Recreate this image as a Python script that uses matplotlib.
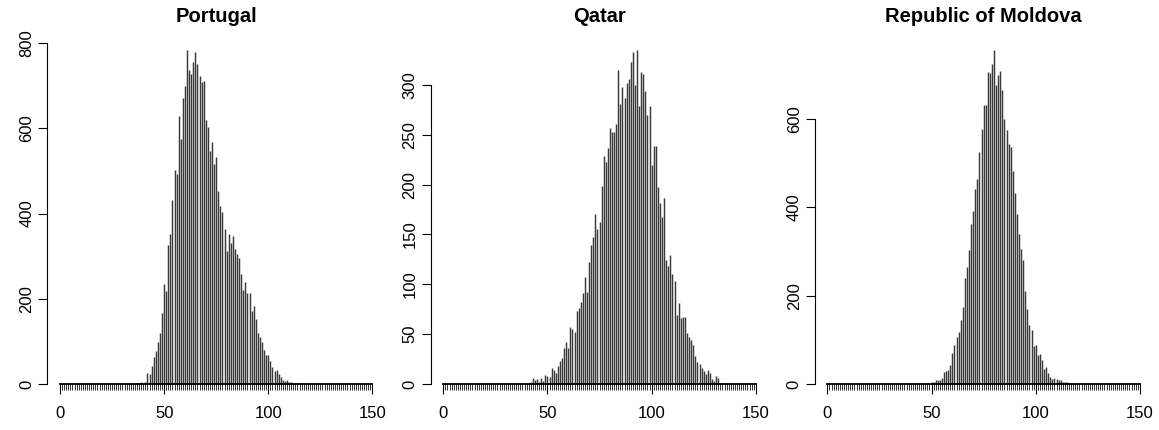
import matplotlib.pyplot as plt
import numpy as np

plt.rcParams['font.family'] = ['Liberation Sans', 'DejaVu Sans']

# counts per integer value (first value sits at *_start)
portugal_start = 34
portugal_counts = [2, 0, 1, 2, 3, 5, 3, 6, 27, 23, 43, 64, 78, 98, 119, 166, 234, 218, 326, 352,
                   433, 502, 493, 630, 575, 672, 699, 784, 737, 727, 755, 778, 751, 723, 708, 711,
                   619, 604, 547, 567, 516, 533, 453, 418, 403, 365, 313, 352, 332, 348, 318, 305,
                   297, 258, 221, 240, 213, 213, 171, 183, 152, 119, 111, 98, 80, 68, 68, 55, 41,
                   31, 33, 23, 16, 9, 8, 9, 5, 5, 2, 1, 2, 3, 1]

qatar_start = 40
qatar_counts = [1, 0, 2, 6, 4, 5, 2, 6, 3, 9, 8, 7, 16, 14, 11, 18, 23, 26, 36, 42, 36, 57, 55, 52,
                73, 76, 82, 91, 107, 92, 122, 139, 147, 171, 155, 162, 199, 229, 223, 237, 257, 253,
                253, 261, 315, 281, 298, 287, 302, 306, 323, 333, 300, 335, 279, 313, 311, 294, 270,
                279, 220, 239, 239, 198, 182, 168, 187, 124, 118, 129, 110, 103, 69, 81, 66, 67, 67,
                51, 47, 44, 39, 28, 22, 20, 16, 13, 10, 14, 11, 5, 3, 8, 6, 1, 1]

moldova_start = 50
moldova_counts = [4, 5, 9, 9, 9, 13, 28, 30, 32, 43, 70, 88, 107, 118, 146, 175, 241, 264, 303, 362,
                  391, 441, 464, 524, 577, 631, 631, 705, 704, 723, 756, 677, 700, 709, 665, 599, 575,
                  543, 536, 482, 432, 385, 340, 306, 281, 211, 171, 134, 122, 86, 88, 66, 69, 54, 34,
                  38, 26, 15, 11, 13, 11, 9, 9, 5, 4, 4, 2, 2, 1, 2, 1]

titles = ['Portugal', 'Qatar', 'Republic of Moldova']
starts = [portugal_start, qatar_start, moldova_start]
counts_all = [portugal_counts, qatar_counts, moldova_counts]
yticks_all = [[0, 200, 400, 600, 800], [0, 50, 100, 150, 200, 250, 300], [0, 200, 400, 600]]
xticks = [0, 50, 100, 150]

W, H = 1159, 430
fig = plt.figure(figsize=(W / 100, H / 100), dpi=100)
lefts = [47.5, 430.8, 814.9]  # pixel left edge of each plot region

for left, title, start, counts, yt in zip(lefts, titles, starts, counts_all, yticks_all):
    ax = fig.add_axes([left / W, 32.5 / H, 337.5 / W, 361 / H])
    x = np.arange(start, start + len(counts))
    ax.vlines(x, 0, counts, color='#3a3a3a', lw=1.05)
    m = max(counts)
    ax.set_xlim(-6, 156)
    ax.set_ylim(-0.04 * m, 1.04 * m)

    for s in ['top', 'right']:
        ax.spines[s].set_visible(False)
    ax.spines['bottom'].set_position(('data', 0))
    ax.spines['bottom'].set_bounds(0, 150)
    ax.spines['bottom'].set_linewidth(1.3)
    ax.spines['left'].set_bounds(0, yt[-1])
    ax.spines['left'].set_linewidth(0.8)

    ax.set_xticks(xticks)
    ax.set_xticks(np.arange(0, 151), minor=True)
    ax.tick_params(axis='x', which='major', length=7, width=0.8, pad=9, labelsize=12)
    ax.tick_params(axis='x', which='minor', length=4.5, width=0.7, color='#333333')
    ax.set_yticks(yt)
    ax.tick_params(axis='y', length=6.5, width=0.8, pad=3, labelsize=12)
    for lab in ax.get_yticklabels():
        lab.set_rotation(90)
        lab.set_va('center')

    fig.text((left + 337.5 / 2) / W, 1 - 17 / H, title, ha='center', va='center',
             fontsize=14.5, fontweight='bold')

fig.savefig('out.png', dpi=100)
